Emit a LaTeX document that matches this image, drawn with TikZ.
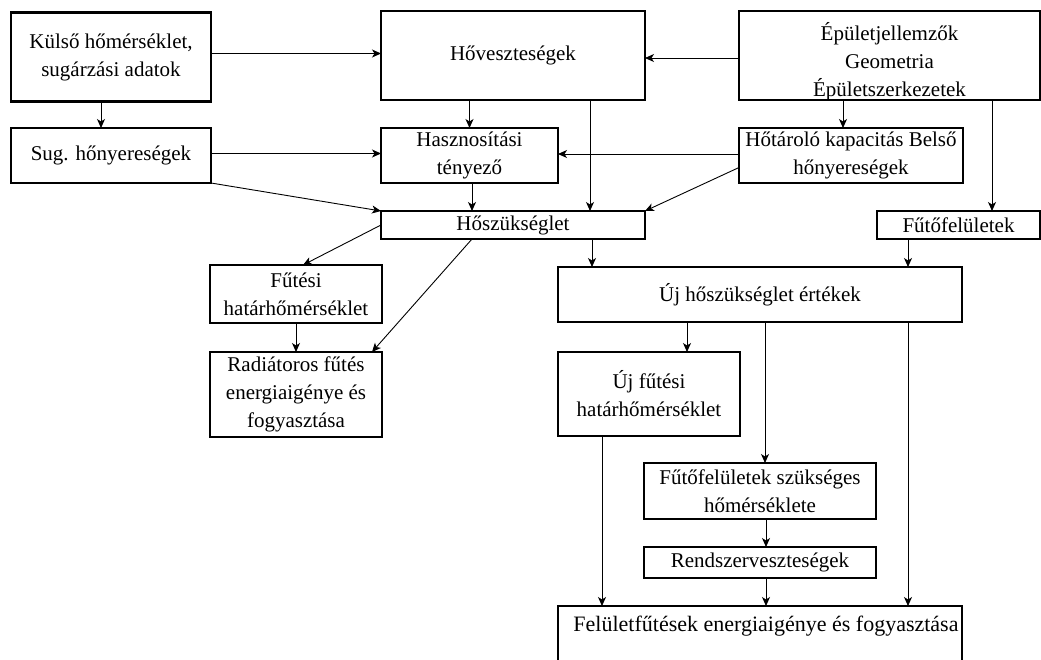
\documentclass[tikz,border=0pt]{standalone}
\usepackage{fontspec}
\setmainfont{Liberation Serif}
\usetikzlibrary{arrows.meta}
\begin{document}
\begin{tikzpicture}[x=1pt,y=-1pt,
  box/.style={draw=black, line width=2.6pt, inner sep=0pt, outer sep=0pt, align=center,
    font=\fontsize{21}{28}\selectfont},
  arr/.style={draw=black, line width=0.9pt, -{Stealth[length=9pt,width=8pt,inset=2.5pt]}}]
\clip (0,0) rectangle (1041,659);
\fill[white] (0,0) rectangle (1041,659);
% boxes
\node[box, minimum width=200, minimum height=89] (A) at (111,57) {Külső hőmérséklet,\\sugárzási adatok};
\node[box, minimum width=200, minimum height=55] (B) at (111,155.5) {Sug. hőnyereségek};
\node[box, minimum width=264, minimum height=89] (C) at (513,55.5) {Hőveszteségek};
\node[box, minimum width=177, minimum height=55] (D) at (469.5,155.5) {Hasznosítási\\tényező};
\node[box, minimum width=264, minimum height=28] (E) at (513,225) {Hőszükséglet};
\node[box, anchor=north, minimum width=301, text height=29pt, text depth=60pt] (F) at (889.5,11)
  {\begin{tabular}[t]{@{}c@{}}Épületjellemzők\\Geometria\\Épületszerkezetek\end{tabular}};
\node[box, minimum width=224, minimum height=55] (G) at (851,155.5) {Hőtároló kapacitás Belső\\hőnyereségek};
\node[box, minimum width=163, minimum height=28] (H) at (958.5,225) {Fűtőfelületek};
\node[box, minimum width=172, minimum height=58] (I) at (296,294) {Fűtési\\határhőmérséklet};
\node[box, minimum width=172, minimum height=85] (J) at (296,394.5) {Radiátoros fűtés\\energiaigénye és\\fogyasztása};
\node[box, minimum width=404, minimum height=55] (K) at (760,294.5) {Új hőszükséglet értékek};
\node[box, minimum width=182, minimum height=84] (L) at (649,394) {Új fűtési\\határhőmérséklet};
\node[box, minimum width=232, minimum height=56] (M) at (760,491) {Fűtőfelületek szükséges\\hőmérséklete};
\node[box, minimum width=232, minimum height=31] (N) at (760,562.5) {Rendszerveszteségek};
\node[box, anchor=north, minimum width=404, text height=25pt, text depth=49pt,
  font=\fontsize{22}{28}\selectfont] (O) at (760,606) {\hspace*{12pt}Felületfűtések energiaigénye és fogyasztása};
% connectors
\draw[arr] ([yshift=3.5pt]A.east) -- ([yshift=3.5pt]A.east -| C.west);
\draw[arr] ([xshift=-10pt]A.south) -- ([xshift=-10pt]B.north);
\draw[arr] ([yshift=2pt]B.east) -- ([yshift=2pt]D.west);
\draw[arr] (B.south east) -- (E.north west);
\draw[arr] (E.west) -- ([xshift=7pt]I.north);
\draw[arr] ([xshift=-41pt]E.south) -- ([xshift=-10pt]J.north east);
\draw[arr] (I.south) -- (J.north);
\draw[arr] (D.north |- C.south) -- (D.north);
\draw[arr] ([xshift=77pt]C.south) -- ([xshift=77pt]E.north);
\draw[arr] ([xshift=2.5pt]D.south) -- ([xshift=2.5pt]D.south |- E.north);
\draw[arr] ([yshift=-2.5pt]F.west) -- ([yshift=-2.5pt]F.west -| C.east);
\draw[arr] ([yshift=1.5pt]G.west) -- ([yshift=1.5pt]D.east);
\draw[arr] ([yshift=-12pt]G.west) -- (E.north east);
\draw[arr] ([xshift=-8pt]G.north |- F.south) -- ([xshift=-8pt]G.north);
\draw[arr] ([xshift=33.5pt]H.north |- F.south) -- ([xshift=33.5pt]H.north);
\draw[arr] ([xshift=79pt]E.south) -- ([xshift=79pt]E.south |- K.north);
\draw[arr] ([xshift=-50.5pt]H.south) -- ([xshift=-50.5pt]H.south |- K.north);
\draw[arr] ([xshift=38pt]L.north |- K.south) -- ([xshift=38pt]L.north);
\draw[arr] ([xshift=5pt]M.north |- K.south) -- ([xshift=5pt]M.north);
\draw[arr] ([xshift=148pt]O.north |- K.south) -- ([xshift=148pt]O.north);
\draw[arr] ([xshift=-47pt]L.south) -- ([xshift=-47pt]L.south |- O.north);
\draw[arr] ([xshift=6pt]M.south) -- ([xshift=6pt]N.north);
\draw[arr] ([xshift=6pt]N.south) -- ([xshift=6pt]O.north);
\end{tikzpicture}
\end{document}
